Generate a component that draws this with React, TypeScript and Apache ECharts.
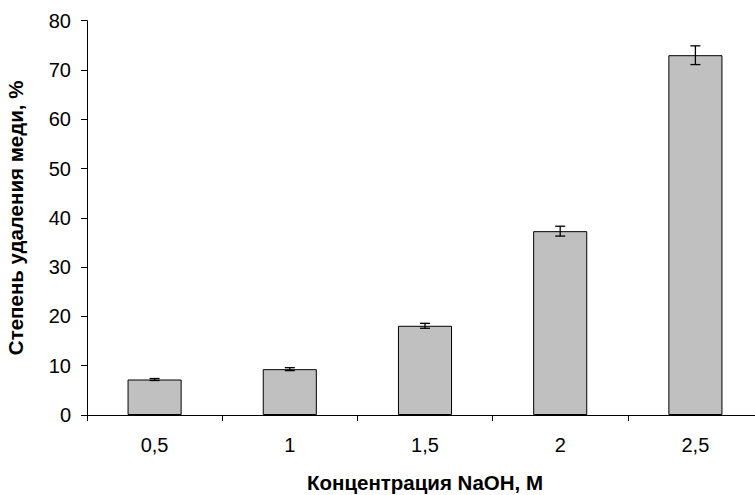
import React, { useEffect, useRef } from "react";
import * as echarts from "echarts";

const categories = ["0,5", "1", "1,5", "2", "2,5"];
const values = [7.2, 9.3, 18.1, 37.3, 73.0];
const errors = [0.2, 0.3, 0.5, 1.0, 1.9];
const xName = "Концентрация NaOH, М";
const yName = "Степень удаления меди, %";

export default function App() {
  const ref = useRef<HTMLDivElement>(null);
  useEffect(() => {
    const chart = echarts.init(ref.current!, null, { renderer: "svg" });
    const errData = values.map((v, i) => [i, v - errors[i], v + errors[i]]);
    const font = "Liberation Sans, Arial, sans-serif";
    chart.setOption({
      animation: false,
      grid: { left: 87, right: -8, top: 20.7, bottom: 80, containLabel: false, outerBoundsMode: "none" },
      xAxis: {
        type: "category",
        data: categories,
        name: xName,
        nameLocation: "middle",
        nameGap: 57,
        nameTextStyle: { fontFamily: font, fontSize: 20.5, fontWeight: "bold", color: "#000" },
        axisLine: { lineStyle: { color: "#000", width: 1 } },
        axisTick: { show: true, length: 6, lineStyle: { color: "#000" } },
        axisLabel: { fontFamily: font, fontSize: 20, color: "#000", margin: 20 },
      },
      yAxis: {
        type: "value",
        min: 0,
        max: 80,
        interval: 10,
        name: yName,
        nameLocation: "middle",
        nameGap: 61,
        nameTextStyle: { fontFamily: font, fontSize: 20.5, fontWeight: "bold", color: "#000" },
        axisLine: { show: true, lineStyle: { color: "#000", width: 1 } },
        axisTick: { show: true, length: 6, lineStyle: { color: "#000" } },
        axisLabel: { fontFamily: font, fontSize: 20, color: "#000", margin: 16 },
        splitLine: { show: false },
      },
      series: [
        {
          type: "bar",
          data: values,
          barWidth: "40%",
          itemStyle: { color: "#c0c0c0", borderColor: "#000", borderWidth: 1 },
        },
        {
          type: "custom",
          data: errData,
          z: 10,
          renderItem: (params: any, api: any) => {
            const x = api.value(0);
            const lo = api.coord([x, api.value(1)]);
            const hi = api.coord([x, api.value(2)]);
            const hw = 5;
            const st = { stroke: "#000", lineWidth: 1.3 };
            return {
              type: "group",
              children: [
                { type: "line", shape: { x1: lo[0], y1: lo[1], x2: hi[0], y2: hi[1] }, style: st },
                { type: "line", shape: { x1: lo[0] - hw, y1: lo[1], x2: lo[0] + hw, y2: lo[1] }, style: st },
                { type: "line", shape: { x1: hi[0] - hw, y1: hi[1], x2: hi[0] + hw, y2: hi[1] }, style: st },
              ],
            };
          },
        },
      ],
    });
    return () => chart.dispose();
  }, []);
  return <div ref={ref} style={{ width: 755, height: 495, position: "absolute", left: 0, top: 0 }} />;
}
